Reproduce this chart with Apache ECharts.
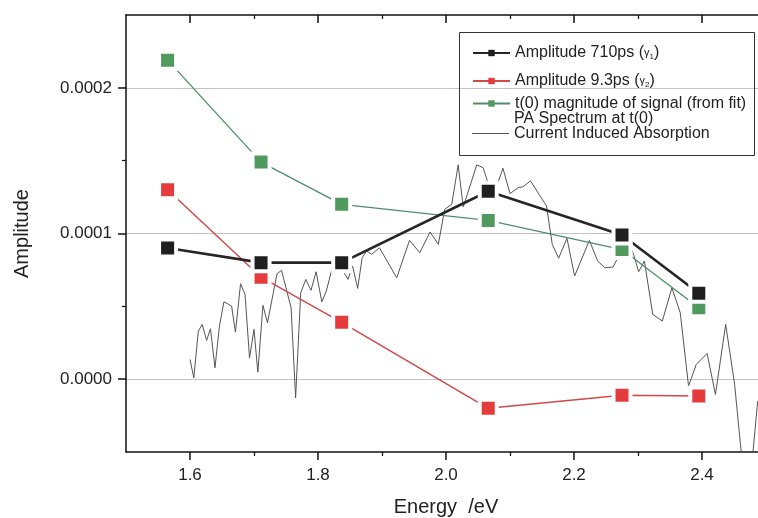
<!DOCTYPE html>
<html>
<head>
<meta charset="utf-8">
<script src="https://cdn.jsdelivr.net/npm/echarts@6/dist/echarts.min.js"></script>
<style>
html,body{margin:0;padding:0;background:#fff;}
#chart{width:758px;height:518px;}
</style>
</head>
<body>
<div id="chart"></div>
<script>
// ---- data ----
const energy = [1.565, 1.711, 1.837, 2.066, 2.275, 2.395];
const amp710 = [0.90e-4, 0.80e-4, 0.80e-4, 1.29e-4, 0.99e-4, 0.59e-4];
const amp93 = [1.30e-4, 0.70e-4, 0.39e-4, -0.20e-4, -0.11e-4, -0.115e-4];
const t0mag = [2.19e-4, 1.49e-4, 1.20e-4, 1.09e-4, 0.89e-4, 0.49e-4];

const ciaEnergy = [1.600, 1.606, 1.613, 1.619, 1.626, 1.632, 1.639, 1.646, 1.653, 1.665,
  1.671, 1.679, 1.686, 1.693, 1.700, 1.706, 1.714, 1.721, 1.736, 1.743,
  1.750, 1.758, 1.765, 1.773, 1.781, 1.789, 1.797, 1.806, 1.813, 1.823,
  1.830, 1.839, 1.847, 1.854, 1.862, 1.869, 1.876, 1.884, 1.896, 1.923,
  1.943, 1.959, 1.975, 1.988, 1.998, 2.009, 2.019, 2.027, 2.048, 2.058,
  2.073, 2.089, 2.100, 2.113, 2.120, 2.132, 2.157, 2.166, 2.176, 2.189,
  2.201, 2.224, 2.237, 2.248, 2.261, 2.269, 2.287, 2.294, 2.301, 2.310,
  2.323, 2.338, 2.353, 2.366, 2.379, 2.391, 2.408, 2.421, 2.437, 2.451,
  2.463, 2.478, 2.487];
const ciaAmp = [0.135e-4, 0.009e-4, 0.330e-4, 0.376e-4, 0.266e-4, 0.346e-4, 0.078e-4, 0.364e-4, 0.531e-4, 0.502e-4,
  0.323e-4, 0.655e-4, 0.582e-4, 0.146e-4, 0.342e-4, 0.048e-4, 0.507e-4, 0.387e-4, 0.724e-4, 0.747e-4,
  0.627e-4, 0.490e-4, -0.129e-4, 0.593e-4, 0.685e-4, 0.610e-4, 0.737e-4, 0.531e-4, 0.605e-4, 0.777e-4,
  0.790e-4, 0.742e-4, 0.685e-4, 0.777e-4, 0.623e-4, 0.834e-4, 0.880e-4, 0.857e-4, 0.902e-4, 0.696e-4,
  0.953e-4, 0.868e-4, 1.010e-4, 0.926e-4, 1.166e-4, 1.201e-4, 1.471e-4, 1.182e-4, 1.471e-4, 1.452e-4,
  1.246e-4, 1.448e-4, 1.274e-4, 1.315e-4, 1.320e-4, 1.361e-4, 1.189e-4, 0.926e-4, 0.830e-4, 0.967e-4,
  0.708e-4, 0.953e-4, 0.811e-4, 0.765e-4, 0.770e-4, 0.838e-4, 0.925e-4, 0.845e-4, 0.737e-4, 0.811e-4,
  0.445e-4, 0.399e-4, 0.627e-4, 0.456e-4, -0.048e-4, 0.101e-4, 0.177e-4, -0.105e-4, 0.376e-4, -0.036e-4,
  -0.58e-4, -0.58e-4, -0.151e-4];

const xMajorTicks = [1.6, 1.8, 2.0, 2.2, 2.4];
const xMinorTicks = [1.7, 1.9, 2.1, 2.3];
const yMajorTicks = [0, 0.0001, 0.0002];
const yMinorTicks = [0.00005, 0.00015];

const names = {
  a710: 'Amplitude 710ps (γ1)',
  a93: 'Amplitude 9.3ps (γ2)',
  t0: 't(0) magnitude of signal (from fit)',
  pa: 'PA Spectrum at t(0)',
  cia: 'Current Induced Absorption'
};

function pairs(xs, ys) { return xs.map((x, i) => [x, ys[i]]); }

const FONT = 'Liberation Sans, Arial, sans-serif';
const TXT = '#222';

const chart = echarts.init(document.getElementById('chart'), null, {renderer: 'canvas'});

const legendRich = {
  n: {fontSize: 16, fontFamily: FONT, color: TXT},
  g: {fontSize: 11, fontFamily: FONT, color: TXT},
  s: {fontSize: 8, fontFamily: FONT, color: TXT, verticalAlign: 'bottom', padding: [6, 0, 0, 0]}
};
function legendFmt(name) {
  if (name === names.a710) return '{n|Amplitude 710ps (}{g|γ}{s|1}{n|)}';
  if (name === names.a93) return '{n|Amplitude 9.3ps (}{g|γ}{s|2}{n|)}';
  return '{n|' + name + '}';
}
function mkLegend(name, top, extra) {
  return Object.assign({
    data: [name],
    left: 472, top: top,
    orient: 'vertical',
    padding: 0,
    itemWidth: 37, itemHeight: 8, itemGap: 0,
    selectedMode: false,
    formatter: legendFmt,
    itemStyle: {borderWidth: 0},
    textStyle: {fontSize: 16, fontFamily: FONT, color: TXT, rich: legendRich}
  }, extra || {});
}

const baseX = {
  type: 'value', min: 1.5, max: 2.5, interval: 0.1,
  splitLine: {show: false}
};
const baseY = {
  type: 'value', min: -0.00005, max: 0.00025, interval: 0.00005,
  splitLine: {show: false}
};

function markerSeries(name, ys, color, lineColor, lineWidth) {
  return {
    name: name, type: 'line', data: pairs(energy, ys),
    symbol: 'rect', symbolSize: 17, z: 5,
    lineStyle: {color: lineColor, width: lineWidth},
    itemStyle: {color: color, borderColor: '#fff', borderWidth: 4},
    emphasis: {disabled: true}
  };
}

chart.setOption({
  animation: false,
  backgroundColor: '#fff',
  grid: {left: 126, top: 15, right: -8, bottom: 66, containLabel: false, outerBoundsMode: 'none'},
  xAxis: [
    Object.assign({}, baseX, {
      position: 'bottom',
      axisLine: {show: true, onZero: false, lineStyle: {color: '#111', width: 1.5}},
      axisTick: {show: true, inside: false, length: 8, lineStyle: {color: '#111', width: 1.5}, customValues: xMajorTicks},
      axisLabel: {show: true, customValues: xMajorTicks, margin: 15, fontSize: 17, fontFamily: FONT, color: TXT,
        formatter: v => v.toFixed(1)},
      name: 'Energy  /eV', nameLocation: 'middle', nameGap: 45,
      nameTextStyle: {fontSize: 20, fontFamily: FONT, color: TXT}
    }),
    Object.assign({}, baseX, {
      position: 'bottom',
      axisLine: {show: false, onZero: false},
      axisTick: {show: true, inside: false, length: 4, lineStyle: {color: '#111', width: 1.2}, customValues: xMinorTicks},
      axisLabel: {show: false}
    }),
    Object.assign({}, baseX, {
      position: 'top',
      axisLine: {show: true, onZero: false, lineStyle: {color: '#111', width: 1.5}},
      axisTick: {show: true, inside: true, length: 8, lineStyle: {color: '#111', width: 1.5}, customValues: xMajorTicks},
      axisLabel: {show: false}
    }),
    Object.assign({}, baseX, {
      position: 'top',
      axisLine: {show: false, onZero: false},
      axisTick: {show: true, inside: true, length: 4, lineStyle: {color: '#111', width: 1.2}, customValues: xMinorTicks},
      axisLabel: {show: false}
    })
  ],
  yAxis: [
    Object.assign({}, baseY, {
      position: 'left',
      axisLine: {show: true, onZero: false, lineStyle: {color: '#111', width: 1.5}},
      axisTick: {show: true, inside: false, length: 8, lineStyle: {color: '#111', width: 1.5}, customValues: yMajorTicks},
      axisLabel: {show: true, customValues: yMajorTicks, margin: 14, fontSize: 17, fontFamily: FONT, color: TXT,
        formatter: v => v.toFixed(4)},
      splitLine: {show: true, lineStyle: {color: '#c4c4c4', width: 1}},
      name: 'Amplitude', nameLocation: 'middle', nameGap: 94, nameRotate: 90,
      nameTextStyle: {fontSize: 20, fontFamily: FONT, color: TXT}
    }),
    Object.assign({}, baseY, {
      position: 'left',
      axisLine: {show: false, onZero: false},
      axisTick: {show: true, inside: false, length: 4, lineStyle: {color: '#111', width: 1.2}, customValues: yMinorTicks},
      axisLabel: {show: false}
    })
  ],
  legend: [
    mkLegend(names.a710, 45),
    mkLegend(names.a93, 73),
    mkLegend(names.t0, 95.5),
    mkLegend(names.pa, 110.5, {data: [{name: names.pa, icon: 'none'}]}),
    mkLegend(names.cia, 125.5, {itemHeight: 1, data: [{name: names.cia, icon: 'rect'}]})
  ],
  graphic: [{
    type: 'rect', left: 457, top: 30, z: 100, silent: true,
    shape: {width: 295, height: 123},
    style: {fill: 'none', stroke: '#333', lineWidth: 1}
  }],
  series: [
    {
      name: names.cia, type: 'line', data: pairs(ciaEnergy, ciaAmp),
      symbol: 'none', showSymbol: false, z: 2,
      lineStyle: {color: '#555', width: 1},
      itemStyle: {color: '#555'},
      emphasis: {disabled: true}
    },
    {
      name: names.pa, type: 'line', data: [], symbol: 'none',
      lineStyle: {opacity: 0}, itemStyle: {opacity: 0}
    },
    markerSeries(names.t0, t0mag, '#519a5e', '#4d8f6b', 1.3),
    markerSeries(names.a93, amp93, '#e63b3d', '#cf4a4a', 1.5),
    markerSeries(names.a710, amp710, '#1f1f1f', '#262626', 2.6)
  ]
});
</script>
</body>
</html>
